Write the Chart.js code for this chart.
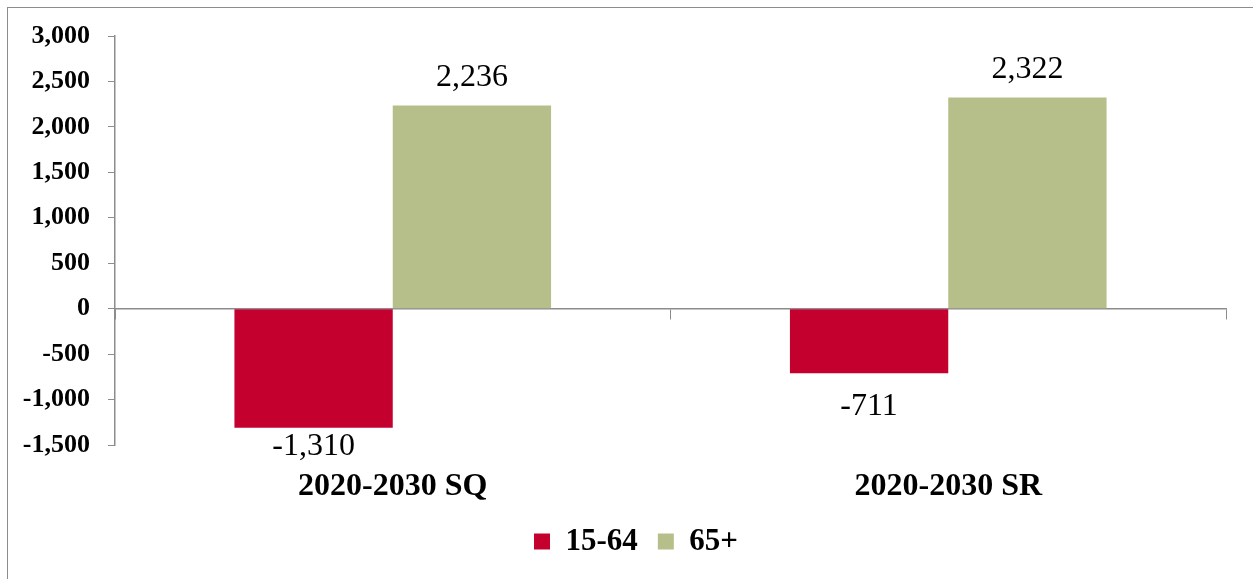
<!DOCTYPE html>
<html>
<head>
<meta charset="utf-8">
<script src="https://cdn.jsdelivr.net/npm/chart.js@4.4.1/dist/chart.umd.min.js"></script>
<style>
  html, body { margin: 0; padding: 0; background: #fff; overflow: hidden; }
  #frame {
    position: absolute; left: 7px; top: 7px; width: 1270px; height: 600px;
    border: 1px solid #8c8c8c; box-sizing: border-box;
  }
  #wrap { position: absolute; left: 0; top: 0; width: 1253px; height: 579px; }
</style>
</head>
<body>
<div id="frame"></div>
<div id="wrap"><canvas id="myChart" width="1253" height="579"></canvas></div>
<script>
var categories = ["2020-2030 SQ", "2020-2030 SR"];
var ageWorking = [-1310, -711];
var ageSenior = [2236, 2322];
var yTicks = [-1500, -1000, -500, 0, 500, 1000, 1500, 2000, 2500, 3000];

var serif = "'Liberation Serif', 'Times New Roman', serif";
var axisGray = "#8c8c8c";

function fmt(v) {
  return Number(v).toLocaleString("en-US");
}

// value labels above / below each bar
var barLabels = {
  id: "barLabels",
  afterDatasetsDraw: function(chart) {
    var ctx = chart.ctx;
    var area = chart.chartArea;
    ctx.save();
    ctx.font = "32px " + serif;
    ctx.fillStyle = "#000";
    ctx.textAlign = "center";
    ctx.textBaseline = "middle";
    chart.data.datasets.forEach(function(ds, i) {
      chart.getDatasetMeta(i).data.forEach(function(bar, j) {
        var v = ds.data[j];
        var y;
        if (v >= 0) {
          y = bar.y - 28;
        } else {
          // keep the label from running too far under the plot
          y = Math.min(bar.y + 33, area.bottom + 2);
        }
        ctx.fillText(fmt(v), bar.x, y);
      });
    });
    ctx.restore();
  }
};

// nudge the legend a bit right of the canvas centre
var legendShift = {
  id: "legendShift",
  afterLayout: function(chart) {
    if (chart.legend) {
      chart.legend.left += 23;
      chart.legend.right += 23;
    }
  }
};

var ctx = document.getElementById("myChart");

var chartData = {
  labels: categories,
  datasets: [
    { label: "15-64", data: ageWorking, backgroundColor: "#C4002F" },
    { label: "65+", data: ageSenior, backgroundColor: "#B6BF8A" }
  ]
};

var options = {
  responsive: false,
  animation: false,
  events: [],
  layout: { padding: { top: 36, right: 27, bottom: 12, left: 0 } },
  datasets: { bar: { categoryPercentage: 0.57, barPercentage: 1 } },
  plugins: {
    tooltip: { enabled: false },
    legend: {
      position: "bottom",
      labels: {
        boxWidth: 16,
        boxHeight: 16,
        padding: 20,
        color: "#000",
        font: { family: serif, size: 31, weight: "bold" }
      }
    }
  },
  scales: {
    x: {
      type: "category",
      offset: true,
      afterFit: function(scale) {
        scale.height = 61;
      },
      grid: { display: false },
      border: { display: false },
      ticks: {
        color: "#000",
        padding: 15,
        font: { family: serif, size: 32, weight: "bold" }
      }
    },
    // axis line through zero with tick marks between categories
    x2: {
      type: "category",
      labels: categories,
      position: { y: 0 },
      offset: true,
      grid: {
        offset: true,
        drawOnChartArea: false,
        drawTicks: true,
        tickLength: 10,
        color: axisGray
      },
      border: { display: true, color: axisGray, width: 1.5 },
      ticks: { display: false }
    },
    y: {
      min: yTicks[0],
      max: yTicks[yTicks.length - 1],
      afterBuildTicks: function(scale) {
        scale.ticks = yTicks.map(function(v) { return { value: v }; });
      },
      afterFit: function(scale) {
        scale.width = 115;
      },
      grid: {
        drawOnChartArea: false,
        drawTicks: true,
        tickLength: 7,
        color: axisGray
      },
      border: { display: true, color: axisGray, width: 1.5 },
      ticks: {
        color: "#000",
        padding: 18,
        font: { family: serif, size: 26, weight: "bold" },
        callback: function(v) { return fmt(v); }
      }
    }
  }
};

var chart = new Chart(ctx, {
  type: "bar",
  data: chartData,
  options: options,
  plugins: [barLabels, legendShift]
});
</script>
</body>
</html>
